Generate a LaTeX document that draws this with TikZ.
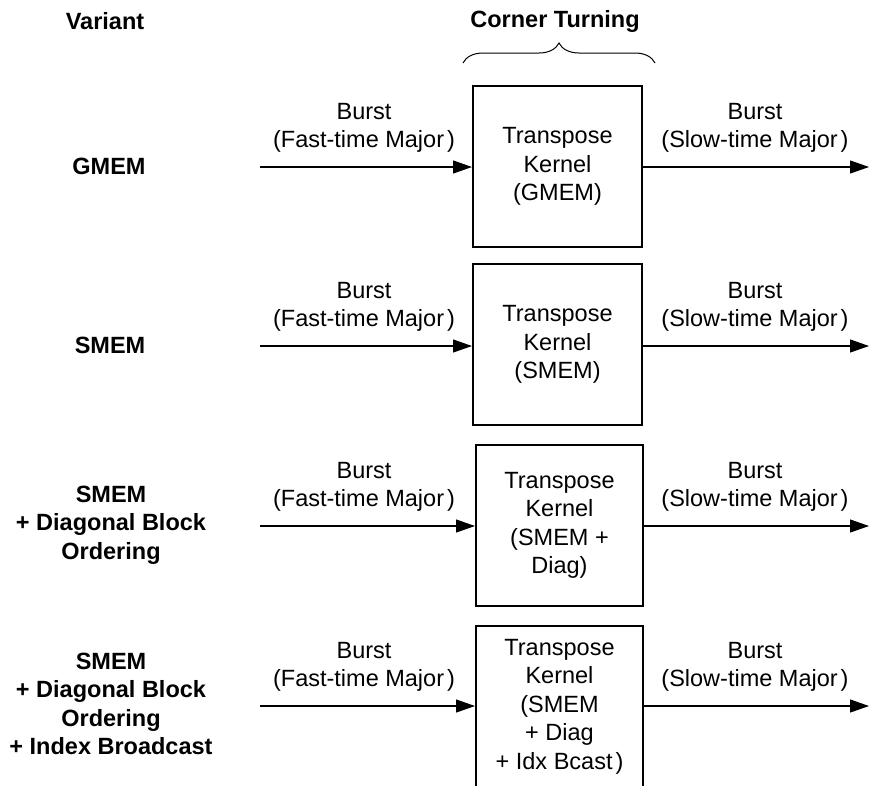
\documentclass[tikz,border=0pt]{standalone}
\usepackage{fontspec}
\setmainfont{Liberation Sans}
\usetikzlibrary{arrows.meta,decorations.pathreplacing}

\tikzset{
  txt/.style={font=\fontsize{23.5}{28.5}\selectfont},
  kernel/.style={txt, draw, line width=2pt, align=center, inner sep=0pt,
                 minimum height=161pt},
  lbl/.style={txt, anchor=base, inner sep=0pt},
  variant/.style={txt, font=\fontsize{23.5}{28.5}\selectfont\bfseries,
                  align=center, inner sep=0pt},
  flow/.style={line width=1.1pt, -{Triangle[length=19pt,width=13pt]}},
  bracket/.style={line width=1pt, decorate, decoration={brace, amplitude=20pt}},
}

\begin{document}
\begin{tikzpicture}[x=1pt, y=-1pt]
  \useasboundingbox (0,0) rectangle (869,785);
  \clip (0,0) rectangle (869,785);

  % column headers
  \node[variant] (hvar) at (105,21) {Variant};
  \node[variant] (hct) at (555,21) {Corner Turning};
  \draw[bracket] (463,63) -- (655,63);

  % transpose kernels
  \node[kernel, minimum width=169pt] (k1) at (557.5,166.5) {Transpose\\Kernel\\(GMEM)};
  \node[kernel, minimum width=169pt] (k2) at (557.5,344.5) {Transpose\\Kernel\\(SMEM)};
  \node[kernel, minimum width=167pt] (k3) at (559.5,525.5) {Transpose\\Kernel\\(SMEM +\\Diag)};
  \node[kernel, minimum width=167pt] (k4) at (559.5,706.5) {Transpose\\Kernel\\(SMEM\\+ Diag\\+ Idx Bcast\kern3pt)};

  % variant names
  \node[variant] (v1) at (109,166) {GMEM};
  \node[variant] (v2) at (110,345) {SMEM};
  \node[variant] (v3) at (111,525) {SMEM\\+ Diagonal Block\\Ordering};
  \node[variant] (v4) at (111,704) {SMEM\\+ Diagonal Block\\Ordering\\+ Index Broadcast};

  % data flow in and out of each kernel
  \foreach \r/\y in {1/167, 2/346, 3/526, 4/706} {
    \coordinate (in\r) at (260,\y);
    \coordinate (out\r) at (869,\y);
    \draw[flow] (in\r) -- (in\r -| k\r.west);
    \draw[flow] (out\r -| k\r.east) -- (out\r);
    \node[lbl] (ia\r) at (364,\y-48) {Burst};
    \node[lbl] (ib\r) at (364,\y-20) {(Fast-time Major\kern3pt)};
    \node[lbl] (oa\r) at (755,\y-48) {Burst};
    \node[lbl] (ob\r) at (755,\y-20) {(Slow-time Major\kern3pt)};
  }
\end{tikzpicture}
\end{document}
